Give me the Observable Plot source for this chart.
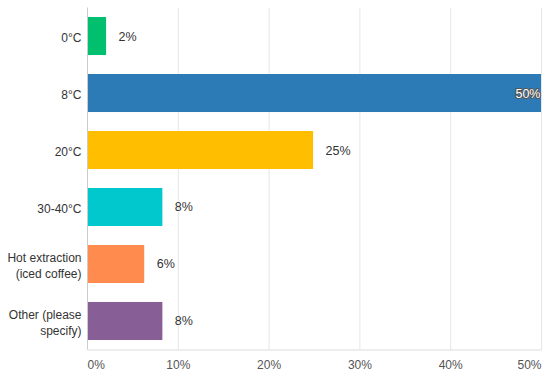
<!DOCTYPE html>
<html>
<head>
<meta charset="utf-8">
<script src="https://cdn.jsdelivr.net/npm/d3@7"></script>
<script src="https://cdn.jsdelivr.net/npm/@observablehq/plot@0.6"></script>
<style>
  html, body { margin: 0; padding: 0; background: #fff; }
  #chart svg { display: block; }
</style>
</head>
<body>
<div id="chart"></div>
<script>
const categories = ["0°C", "8°C", "20°C", "30-40°C", "Hot extraction\n(iced coffee)", "Other (please\nspecify)"];
const values = [2.1, 50, 24.9, 8.3, 6.3, 8.3];
const valueLabels = ["2%", "50%", "25%", "8%", "6%", "8%"];
const colors = ["#00BF6F", "#2D7BB6", "#FFBE00", "#00C8CC", "#FF8B4F", "#875E96"];
const xTicks = [0, 10, 20, 30, 40, 50];

const data = categories.map((c, i) => ({category: c, value: values[i], label: valueLabels[i], color: colors[i]}));
const inside = d => d.value >= 45;

const chart = Plot.plot({
  width: 550,
  height: 378,
  marginLeft: 87,
  marginRight: 9,
  marginTop: 7.5,
  marginBottom: 28.5,
  style: {fontFamily: "'Liberation Sans', Arial, sans-serif", fontSize: "12px", color: "#333"},
  x: {domain: [0, 50]},
  y: {domain: categories, paddingInner: 0.333, paddingOuter: 0.167, round: false},
  marks: [
    Plot.gridX(xTicks.slice(1), {stroke: "#e6e6e6", strokeOpacity: 1}),
    Plot.barX(data, {y: "category", x: "value", fill: "color"}),
    Plot.ruleX([0], {stroke: "#cccccc"}),
    Plot.frame({anchor: "bottom", stroke: "#dddddd"}),
    Plot.text(data.filter(d => !inside(d)), {y: "category", x: "value", text: "label", textAnchor: "start", dx: 12, fill: "#333", fontSize: 12.5}),
    Plot.text(data.filter(inside), {y: "category", x: "value", text: "label", textAnchor: "end", dx: -1, fill: "#fff", stroke: "#555", strokeWidth: 2, paintOrder: "stroke", fontSize: 12.5}),
    Plot.axisY({tickSize: 0, tickPadding: 6, label: null, fill: "#333", fontSize: 12, lineHeight: 1.35}),
    Plot.axisX([0], {tickSize: 0, tickPadding: 10, label: null, textAnchor: "start", tickFormat: d => d + "%", fill: "#555", fontSize: 12}),
    Plot.axisX(xTicks.slice(1, -1), {tickSize: 0, tickPadding: 10, label: null, tickFormat: d => d + "%", fill: "#555", fontSize: 12}),
    Plot.axisX([50], {tickSize: 0, tickPadding: 10, label: null, textAnchor: "end", tickFormat: d => d + "%", fill: "#555", fontSize: 12})
  ]
});
document.getElementById("chart").append(chart);
</script>
</body>
</html>
